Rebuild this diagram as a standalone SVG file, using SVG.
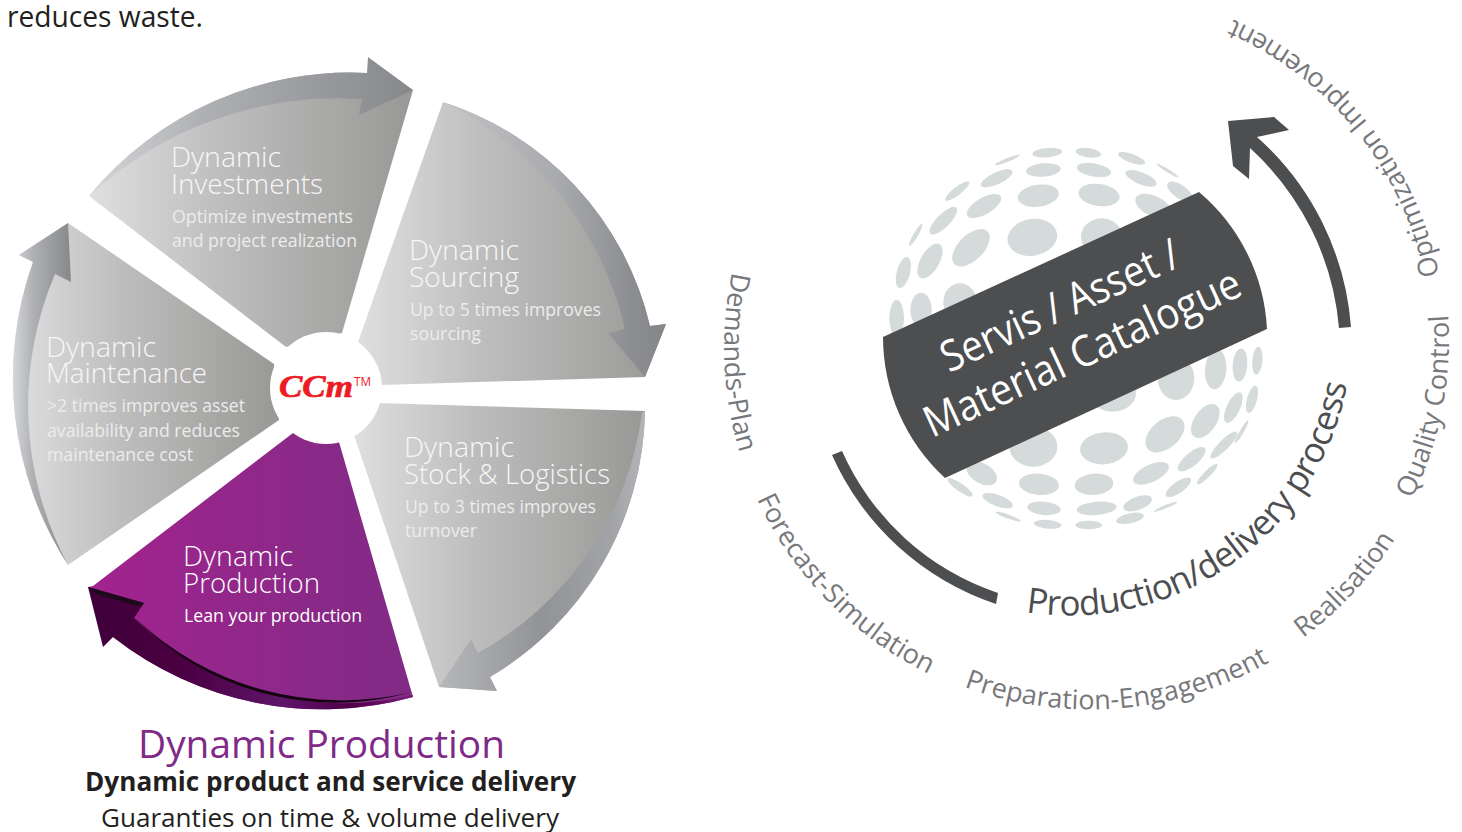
<svg xmlns="http://www.w3.org/2000/svg" width="1462" height="832" viewBox="0 0 1462 832">
<style>
text{font-family:"Open Sans","Noto Sans",sans-serif}
.h{font-size:28px;font-weight:300;fill:#f7f7f7}
.b{font-size:18.5px;font-weight:400;fill:#ececec}
.lab{font-size:27px;font-weight:400;fill:#77787b}
.dot{fill:#d5dbda}
.dk{fill:#4d4e50}
</style>
<defs>
<linearGradient id="seg"><stop offset="0" stop-color="#dedfe0"/><stop offset=".4" stop-color="#bfbebe"/><stop offset="1" stop-color="#989896"/></linearGradient>
<linearGradient id="pur"><stop offset="0" stop-color="#a3238e"/><stop offset=".45" stop-color="#92278a"/><stop offset="1" stop-color="#802b85"/></linearGradient>
<linearGradient id="arr1"><stop offset="0" stop-color="#d5d6d8"/><stop offset=".35" stop-color="#afb0b3"/><stop offset="1" stop-color="#87888c"/></linearGradient>
<linearGradient id="arr2"><stop offset="0" stop-color="#b6b7ba"/><stop offset=".5" stop-color="#929397"/><stop offset=".85" stop-color="#a3a4a7"/><stop offset="1" stop-color="#b4b5b8"/></linearGradient>
<linearGradient id="arr3"><stop offset="0" stop-color="#c2c3c5"/><stop offset=".5" stop-color="#aaabae"/><stop offset=".85" stop-color="#8c8d91"/><stop offset="1" stop-color="#85868a"/></linearGradient>
<linearGradient id="arr4"><stop offset="0" stop-color="#3f003a"/><stop offset=".3" stop-color="#4a0042"/><stop offset=".6" stop-color="#5f1669"/><stop offset=".8" stop-color="#4f0048"/><stop offset="1" stop-color="#7a1d7c"/></linearGradient>
<path id="pProd" d="M1026,612 A282,282 0 0 0 1347,385"/>
<path id="pDem" d="M732,272 A365,365 0 0 0 740,454"/>
<path id="pFor" d="M757,499 A365,365 0 0 0 927,673"/>
<path id="pPre" d="M964,687 A365,365 0 0 0 1273,660"/>
<path id="pRea" d="M1303,638 A360,360 0 0 0 1396,537"/>
<path id="pQua" d="M1412,499 A360,360 0 0 0 1448,314"/>
<path id="pOpt" d="M1439,275 A356,356 0 0 0 1227,17"/>
</defs>

<rect width="1462" height="832" fill="#fff"/>
<text x="7" y="27" font-size="28.5" fill="#231f20" textLength="196" lengthAdjust="spacingAndGlyphs">reduces waste.</text>

<g id="node-investments">
<path d="M89,196 A339,339 0 0 1 367,73 L413,90 L342,333 L286,347 Z" fill="url(#seg)"/>
<text class="h" x="171" y="167" textLength="110" lengthAdjust="spacingAndGlyphs">Dynamic</text>
<text class="h" x="171" y="194" textLength="152" lengthAdjust="spacingAndGlyphs">Investments</text>
<text class="b" x="172" y="223" textLength="181" lengthAdjust="spacingAndGlyphs">Optimize investments</text>
<text class="b" x="172" y="247" textLength="185" lengthAdjust="spacingAndGlyphs">and project realization</text>
</g>
<g id="node-sourcing">
<path d="M443,102 A310,310 0 0 1 650,326 L666,324 L645,377 L382,385 L358,342 Z" fill="url(#seg)"/>
<text class="h" x="409" y="260" textLength="110" lengthAdjust="spacingAndGlyphs">Dynamic</text>
<text class="h" x="409" y="287" textLength="110" lengthAdjust="spacingAndGlyphs">Sourcing</text>
<text class="b" x="410" y="316" textLength="191" lengthAdjust="spacingAndGlyphs">Up to 5 times improves</text>
<text class="b" x="410" y="340" textLength="71" lengthAdjust="spacingAndGlyphs">sourcing</text>
</g>
<g id="node-stock">
<path d="M378,403 L645,411 A315,315 0 0 1 490,677 L497,691 L439,687 L354,435 Z" fill="url(#seg)"/>
<text class="h" x="404" y="457" textLength="110" lengthAdjust="spacingAndGlyphs">Dynamic</text>
<text class="h" x="404" y="484" textLength="206" lengthAdjust="spacingAndGlyphs">Stock &amp; Logistics</text>
<text class="b" x="405" y="513" textLength="191" lengthAdjust="spacingAndGlyphs">Up to 3 times improves</text>
<text class="b" x="405" y="537" textLength="72" lengthAdjust="spacingAndGlyphs">turnover</text>
</g>
<g id="node-production">
<path d="M339,442 L413,697 A340,340 0 0 1 113,637 L88,587 L93,586 L293,433 Z" fill="url(#pur)"/>
<text class="h" style="fill:#fff" x="183" y="566" textLength="110" lengthAdjust="spacingAndGlyphs">Dynamic</text>
<text class="h" style="fill:#fff" x="183" y="593" textLength="137" lengthAdjust="spacingAndGlyphs">Production</text>
<text class="b" style="fill:#fff" x="184" y="622" textLength="178" lengthAdjust="spacingAndGlyphs">Lean your production</text>
</g>
<g id="node-maintenance">
<path d="M68,223 L274,364 L279,420 L68,565 A345,345 0 0 1 33,262 L19,255 Z" fill="url(#seg)"/>
<text class="h" x="46" y="357" textLength="110" lengthAdjust="spacingAndGlyphs">Dynamic</text>
<text class="h" x="46" y="383" textLength="161" lengthAdjust="spacingAndGlyphs">Maintenance</text>
<text class="b" x="47" y="412" textLength="198" lengthAdjust="spacingAndGlyphs">&gt;2 times improves asset</text>
<text class="b" x="47" y="437" textLength="193" lengthAdjust="spacingAndGlyphs">availability and reduces</text>
<text class="b" x="47" y="461" textLength="146" lengthAdjust="spacingAndGlyphs">maintenance cost</text>
</g>

<g id="connectors">
<path d="M89,196 A339,339 0 0 1 367,73 L368,57 L413,90 L359,115 L362,99 A365,365 0 0 0 89,196 Z" fill="url(#arr1)"/>
<path d="M443,102 A310,310 0 0 1 650,326 L666,324 L645,377 L608,333 L625,329 A337,337 0 0 0 443,102 Z" fill="url(#arr3)"/>
<path d="M645,411 A315,315 0 0 1 490,677 L497,691 L439,687 L471,639 L478,653 A322,322 0 0 0 642,413 Z" fill="url(#arr2)"/>
<path d="M68,565 A345,345 0 0 1 33,262 L19,255 L68,223 L71,282 L55,274 A337,337 0 0 0 68,565 Z" fill="url(#arr1)"/>
<path d="M413,697 A340,340 0 0 1 113,637 L103,647 L88,587 L144,603 L134,618 A300,300 0 0 0 413,695 Z" fill="url(#arr4)"/>
<path d="M88,587 L144,603 L141,607 L96,594 Z" fill="#1c0a1a"/>
<path d="M134,617 A300,300 0 0 0 412,692 A280,280 0 0 1 134,617 Z" fill="#140510"/>
<path class="dk" d="M1339,328 A275,275 0 0 0 1250,148 L1249,179 L1233,166 L1228,121 L1274,117 L1289,130 L1257,137 A283,283 0 0 1 1351,327 Z"/>
<path class="dk" d="M832,455 L842,451 A262,262 0 0 0 998,593 L996,604 A275,275 0 0 1 832,455 Z"/>
</g>

<g id="node-hub">
<circle cx="326" cy="388" r="56" fill="#fff"/>
<text x="279" y="397" font-size="31" font-weight="700" font-style="italic" fill="#ed1c24" stroke="#ed1c24" stroke-width=".7" style="font-family:'Liberation Serif',serif" textLength="74" lengthAdjust="spacingAndGlyphs">CCm</text>
<text x="354" y="386" font-size="12" fill="#ed1c24" textLength="17" lengthAdjust="spacingAndGlyphs">TM</text>
</g>

<g id="caption">
<text x="138" y="758" font-size="38" fill="#7f2a87" textLength="367" lengthAdjust="spacingAndGlyphs">Dynamic Production</text>
<text x="85" y="791" font-size="26" font-weight="700" fill="#231f20" textLength="491" lengthAdjust="spacingAndGlyphs">Dynamic product and service delivery</text>
<text x="101" y="827" font-size="26" fill="#231f20" textLength="458" lengthAdjust="spacingAndGlyphs">Guaranties on time &amp; volume delivery</text>
</g>

<g id="node-globe">
<g transform="translate(870,130) scale(.33333)" class="dot">
<ellipse cx="412" cy="90" rx="40" ry="6" transform="rotate(-22 412 90)"/>
<ellipse cx="532" cy="68" rx="45" ry="14" transform="rotate(-5 532 68)"/>
<ellipse cx="655" cy="68" rx="38" ry="14" transform="rotate(8 655 68)"/>
<ellipse cx="785" cy="85" rx="43" ry="13" transform="rotate(20 785 85)"/>
<ellipse cx="893" cy="122" rx="38" ry="5" transform="rotate(32 893 122)"/>
<ellipse cx="520" cy="120" rx="52" ry="20" transform="rotate(-5 520 120)"/>
<ellipse cx="672" cy="120" rx="52" ry="20" transform="rotate(10 672 120)"/>
<ellipse cx="380" cy="145" rx="52" ry="18" transform="rotate(-25 380 145)"/>
<ellipse cx="813" cy="145" rx="50" ry="18" transform="rotate(22 813 145)"/>
<ellipse cx="262" cy="183" rx="45" ry="12" transform="rotate(-38 262 183)"/>
<ellipse cx="930" cy="185" rx="45" ry="20" transform="rotate(35 930 185)"/>
<ellipse cx="505" cy="197" rx="62" ry="33" transform="rotate(-8 505 197)"/>
<ellipse cx="687" cy="195" rx="62" ry="33" transform="rotate(8 687 195)"/>
<ellipse cx="342" cy="228" rx="58" ry="25" transform="rotate(-30 342 228)"/>
<ellipse cx="850" cy="228" rx="58" ry="30" transform="rotate(25 850 228)"/>
<ellipse cx="220" cy="272" rx="55" ry="20" transform="rotate(-45 220 272)"/>
<ellipse cx="137" cy="315" rx="38" ry="7" transform="rotate(-60 137 315)"/>
<ellipse cx="487" cy="322" rx="75" ry="55" transform="rotate(-10 487 322)"/>
<ellipse cx="695" cy="320" rx="62" ry="55"/>
<ellipse cx="303" cy="353" rx="70" ry="38" transform="rotate(-45 303 353)"/>
<ellipse cx="180" cy="393" rx="58" ry="28" transform="rotate(-60 180 393)"/>
<ellipse cx="100" cy="428" rx="48" ry="20" transform="rotate(-75 100 428)"/>
<ellipse cx="270" cy="515" rx="50" ry="55"/>
<ellipse cx="153" cy="540" rx="32" ry="52"/>
<ellipse cx="80" cy="565" rx="22" ry="55"/>
<ellipse cx="1162" cy="692" rx="15" ry="42" transform="rotate(5 1162 692)"/>
<ellipse cx="1110" cy="705" rx="22" ry="50" transform="rotate(5 1110 705)"/>
<ellipse cx="1037" cy="718" rx="32" ry="60" transform="rotate(5 1037 718)"/>
<ellipse cx="918" cy="745" rx="55" ry="65"/>
<ellipse cx="1146" cy="808" rx="15" ry="42" transform="rotate(15 1146 808)"/>
<ellipse cx="1090" cy="833" rx="20" ry="50" transform="rotate(25 1090 833)"/>
<ellipse cx="1006" cy="873" rx="33" ry="58" transform="rotate(35 1006 873)"/>
<ellipse cx="885" cy="913" rx="68" ry="42" transform="rotate(-40 885 913)"/>
<ellipse cx="702" cy="955" rx="72" ry="48" transform="rotate(-5 702 955)"/>
<ellipse cx="490" cy="950" rx="72" ry="60"/>
<ellipse cx="728" cy="790" rx="70" ry="55"/>
<ellipse cx="1115" cy="905" rx="40" ry="6" transform="rotate(-60 1115 905)"/>
<ellipse cx="1062" cy="945" rx="55" ry="15" transform="rotate(-45 1062 945)"/>
<ellipse cx="965" cy="988" rx="52" ry="20" transform="rotate(-40 965 988)"/>
<ellipse cx="843" cy="1030" rx="58" ry="26" transform="rotate(-25 843 1030)"/>
<ellipse cx="1012" cy="1032" rx="42" ry="10" transform="rotate(-45 1012 1032)"/>
<ellipse cx="925" cy="1072" rx="45" ry="17" transform="rotate(-35 925 1072)"/>
<ellipse cx="803" cy="1120" rx="45" ry="20" transform="rotate(-20 803 1120)"/>
<ellipse cx="887" cy="1130" rx="38" ry="5" transform="rotate(-22 887 1130)"/>
<ellipse cx="672" cy="1063" rx="58" ry="32" transform="rotate(-5 672 1063)"/>
<ellipse cx="507" cy="1063" rx="60" ry="32" transform="rotate(5 507 1063)"/>
<ellipse cx="680" cy="1135" rx="60" ry="20" transform="rotate(-5 680 1135)"/>
<ellipse cx="522" cy="1135" rx="50" ry="20" transform="rotate(5 522 1135)"/>
<ellipse cx="780" cy="1165" rx="42" ry="15" transform="rotate(-12 780 1165)"/>
<ellipse cx="656" cy="1185" rx="40" ry="13"/>
<ellipse cx="533" cy="1183" rx="42" ry="13" transform="rotate(5 533 1183)"/>
<ellipse cx="415" cy="1160" rx="40" ry="6" transform="rotate(20 415 1160)"/>
<ellipse cx="383" cy="1112" rx="48" ry="17" transform="rotate(20 383 1112)"/>
<ellipse cx="335" cy="1030" rx="50" ry="30" transform="rotate(30 335 1030)"/>
<ellipse cx="270" cy="1072" rx="45" ry="12" transform="rotate(35 270 1072)"/>
</g>
<path class="dk" d="M883,337 L1199,192 A192,192 0 0 1 1267,329 L945,478 A192,192 0 0 1 883,337 Z"/>
<text transform="translate(949,373) rotate(-24.7)" font-size="43" fill="#fff" textLength="258" lengthAdjust="spacingAndGlyphs">Servis / Asset /</text>
<text transform="translate(932,438) rotate(-24.7)" font-size="43" fill="#fff" textLength="344" lengthAdjust="spacingAndGlyphs">Material Catalogue</text>
</g>

<g id="labels">
<text font-size="35" fill="#4d4e50"><textPath href="#pProd" textLength="436" lengthAdjust="spacing">Production/delivery process</textPath></text>
<text class="lab"><textPath href="#pDem" textLength="183" lengthAdjust="spacing">Demands-Plan</textPath></text>
<text class="lab"><textPath href="#pFor" textLength="250" lengthAdjust="spacing">Forecast-Simulation</textPath></text>
<text class="lab"><textPath href="#pPre" textLength="316" lengthAdjust="spacing">Preparation-Engagement</textPath></text>
<text class="lab"><textPath href="#pRea" textLength="136" lengthAdjust="spacing">Realisation</textPath></text>
<text class="lab"><textPath href="#pQua" textLength="190" lengthAdjust="spacing">Quality Control</textPath></text>
<text class="lab"><textPath href="#pOpt" textLength="341" lengthAdjust="spacing">Optimization Improvement</textPath></text>
</g>
</svg>
